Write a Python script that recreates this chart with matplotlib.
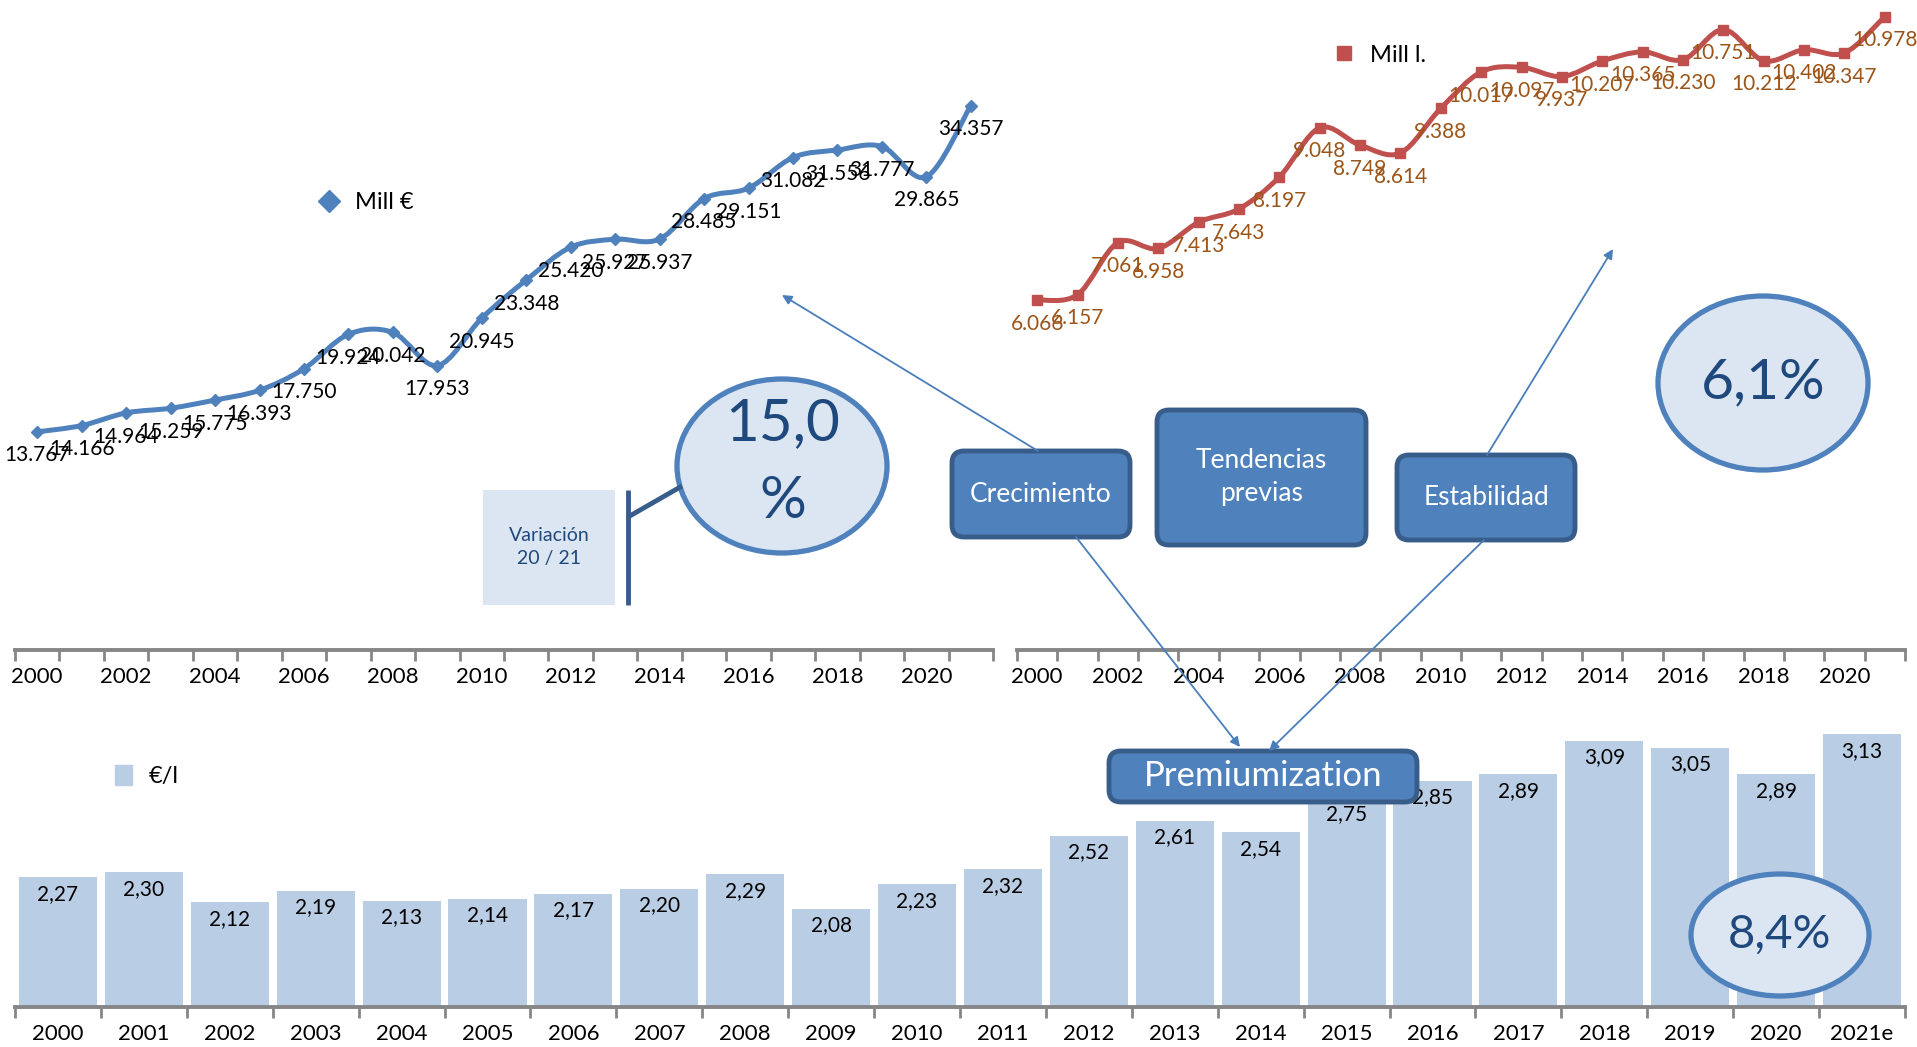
import matplotlib
import numpy as np

matplotlib.use('Agg')
import matplotlib.pyplot as plt
from matplotlib.path import Path
from matplotlib.patches import PathPatch, Ellipse, FancyBboxPatch, Rectangle, Patch
from matplotlib.lines import Line2D

plt.rcParams['font.family'] = ['Lato', 'DejaVu Sans']

# datos
years = list(range(2000, 2022))
mill_eur = [13767, 14166, 14964, 15259, 15775, 16393, 17750, 19924, 20042, 17953, 20945,
            23348, 25420, 25927, 25937, 28485, 29151, 31082, 31556, 31777, 29865, 34357]
mill_l = [6066, 6157, 7061, 6958, 7413, 7643, 8197, 9048, 8749, 8614, 9388,
          10017, 10097, 9937, 10207, 10365, 10230, 10751, 10212, 10402, 10347, 10978]
eur_l = [2.27, 2.30, 2.12, 2.19, 2.13, 2.14, 2.17, 2.20, 2.29, 2.08, 2.23,
         2.32, 2.52, 2.61, 2.54, 2.75, 2.85, 2.89, 3.09, 3.05, 2.89, 3.13]
bar_tick_labels = [str(y) for y in range(2000, 2021)] + ['2021e']
line_tick_labels = [str(y) for y in range(2000, 2021, 2)]

W, H = 1917, 1047
AXIS_GREY = '#868686'
BLUE = '#4F81BD'
RED = '#C0504D'
BROWN = '#9C5418'
DARK_BLUE = '#1F497D'
EDGE_BLUE = '#385D8A'
LIGHT = '#DCE6F2'
BAR = '#B9CDE5'

fig = plt.figure(figsize=(W / 100, H / 100), dpi=100)
fig.patch.set_facecolor('white')


def px_axes(x0, y0, x1, y1):
    # ejes en coordenadas de pixel (origen arriba a la izquierda)
    return fig.add_axes([x0 / W, 1 - y1 / H, (x1 - x0) / W, (y1 - y0) / H])


def smooth_path(xs, ys):
    """Curva suavizada tipo Excel (Bezier por Catmull-Rom)"""
    verts = [(xs[0], ys[0])]
    codes = [Path.MOVETO]
    n = len(xs)
    for i in range(n - 1):
        x0, y0 = xs[max(i - 1, 0)], ys[max(i - 1, 0)]
        x1, y1 = xs[i], ys[i]
        x2, y2 = xs[i + 1], ys[i + 1]
        x3, y3 = xs[min(i + 2, n - 1)], ys[min(i + 2, n - 1)]
        verts += [(x1 + (x2 - x0) / 6, y1 + (y2 - y0) / 6),
                  (x2 - (x3 - x1) / 6, y2 - (y3 - y1) / 6),
                  (x2, y2)]
        codes += [Path.CURVE4] * 3
    return Path(verts, codes)


def style_axis(ax, n, label_pos, labels):
    for s in ['left', 'right', 'top']:
        ax.spines[s].set_visible(False)
    ax.spines['bottom'].set_color(AXIS_GREY)
    ax.spines['bottom'].set_linewidth(2.8)
    ax.set_xlim(-0.5, n - 0.5)
    ax.set_yticks([])
    ax.set_xticks(np.arange(-0.5, n, 1.0))
    ax.set_xticklabels([])
    ax.tick_params(axis='x', which='major', length=8, width=2, color=AXIS_GREY)
    ax.set_xticks(label_pos, labels, minor=True)
    ax.tick_params(axis='x', which='minor', length=0, pad=12, labelsize=16)
    ax.set_facecolor('none')


def draw_line(ax, vals, color, marker, msize, lblcolor):
    x = np.arange(len(vals))
    ax.add_patch(PathPatch(smooth_path(x, vals), fill=False, edgecolor=color, lw=3.6,
                           joinstyle='round', capstyle='round'))
    ax.plot(x, vals, ls='none', marker=marker, color=color, markersize=msize)
    for xi, v in zip(x, vals):
        ax.annotate(f'{v:,}'.replace(',', '.'), (xi, v), xytext=(0, -17),
                    textcoords='offset points', ha='center', va='center',
                    fontsize=15, color=lblcolor)


# grafico Mill €
ax1 = px_axes(15, 0, 993, 650)
style_axis(ax1, 22, list(range(0, 21, 2)), line_tick_labels)
ax1.set_ylim(0, 41024)
draw_line(ax1, mill_eur, BLUE, 'D', 6, 'black')
ax1.legend(handles=[Line2D([], [], ls='none', marker='D', color=BLUE, markersize=11)],
           labels=['Mill €'], loc='center left', bbox_to_anchor=(0.311, 0.688),
           frameon=False, fontsize=17, handlelength=0.8, handletextpad=0.7,
           borderpad=0, borderaxespad=0)

# grafico Mill l.
ax2 = px_axes(1017, 0, 1905, 650)
style_axis(ax2, 22, list(range(0, 21, 2)), line_tick_labels)
ax2.set_ylim(0, 11264)
draw_line(ax2, mill_l, RED, 's', 7, BROWN)
ax2.legend(handles=[Line2D([], [], ls='none', marker='s', color=RED, markersize=10)],
           labels=['Mill l.'], loc='center left', bbox_to_anchor=(0.358, 0.915),
           frameon=False, fontsize=17, handlelength=0.8, handletextpad=0.7,
           borderpad=0, borderaxespad=0)

# grafico €/l
ax3 = px_axes(15, 700, 1905, 1007)
style_axis(ax3, 22, list(range(22)), bar_tick_labels)
ax3.set_ylim(1.49, 3.336)
ax3.bar(range(22), eur_l, width=0.91, color=BAR, zorder=1)
for xi, v in enumerate(eur_l):
    ax3.annotate(f'{v:.2f}'.replace('.', ','), (xi, v), xytext=(0, -12),
                 textcoords='offset points', ha='center', va='center', fontsize=15)
ax3.legend(handles=[Patch(color=BAR)], labels=['€/l'], loc='center left',
           bbox_to_anchor=(0.053, 0.752), frameon=False, fontsize=17,
           handlelength=0.7, handleheight=0.9, handletextpad=0.7,
           borderpad=0, borderaxespad=0)

# capa de anotaciones en pixeles
ov = fig.add_axes([0, 0, 1, 1])
ov.set_xlim(0, W)
ov.set_ylim(H, 0)
ov.axis('off')
ov.set_facecolor('none')

# caja Variación
ov.add_patch(Rectangle((483, 490), 132, 115, facecolor=LIGHT, edgecolor='none'))
ov.text(549, 547, 'Variación\n20 / 21', ha='center', va='center', fontsize=14,
        color=DARK_BLUE, linespacing=1.45)
ov.plot([628, 628], [490, 605], color=EDGE_BLUE, lw=3.5, solid_capstyle='butt')
ov.plot([628, 682], [517, 486], color=EDGE_BLUE, lw=3.5, solid_capstyle='butt')

# elipses con porcentajes
for cx, cy, ew, eh in [(782, 466, 210, 174), (1763, 383, 210, 174), (1780, 935, 178, 122)]:
    ov.add_patch(Ellipse((cx, cy), ew, eh, facecolor=LIGHT, edgecolor=BLUE, lw=3.8))
ov.text(783, 424, '15,0', ha='center', va='center', fontsize=42, color=DARK_BLUE)
ov.text(783, 501, '%', ha='center', va='center', fontsize=42, color=DARK_BLUE)
ov.text(1763, 383, '6,1%', ha='center', va='center', fontsize=41, color=DARK_BLUE)
ov.text(1780, 935, '8,4%', ha='center', va='center', fontsize=34, color=DARK_BLUE)

# flechas
arrows = [((1038, 451), (782, 295)), ((1487, 455), (1613, 249)),
          ((1076, 537), (1240, 747)), ((1484, 540), (1269, 751))]
for start, end in arrows:
    ov.annotate('', xy=end, xytext=start,
                arrowprops=dict(arrowstyle='-|>', color='#4A7EBB', lw=1.3,
                                mutation_scale=14, shrinkA=0, shrinkB=0))

# cajas redondeadas
boxes = [(952, 451, 1130, 537, 'Crecimiento', 19),
         (1157, 410, 1366, 545, 'Tendencias\nprevias', 19),
         (1397, 455, 1575, 540, 'Estabilidad', 19),
         (1109, 751, 1417, 802, 'Premiumization', 25)]
for x0, y0, x1, y1, txt, fs in boxes:
    ov.add_patch(FancyBboxPatch((x0, y0), x1 - x0, y1 - y0,
                                boxstyle='round,pad=0,rounding_size=12',
                                facecolor=BLUE, edgecolor=EDGE_BLUE, lw=3.5))
    ov.text((x0 + x1) / 2, (y0 + y1) / 2, txt, ha='center', va='center',
            fontsize=fs, color='white', linespacing=1.4)

plt.savefig('out.png', dpi=100)
plt.close()
